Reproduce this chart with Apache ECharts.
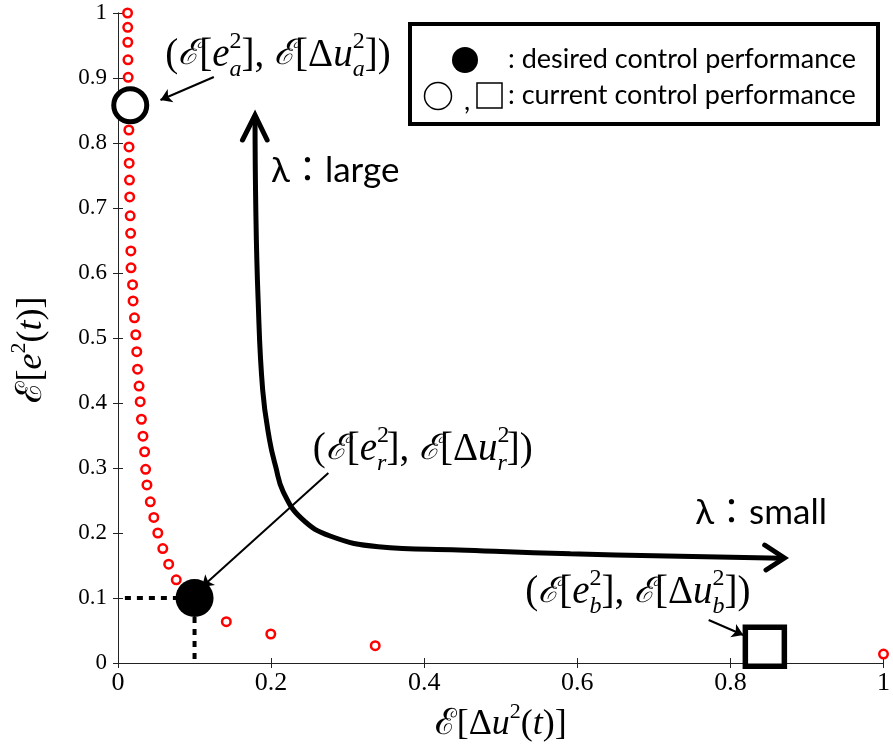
<!DOCTYPE html>
<html><head><meta charset="utf-8">
<script src="https://cdn.jsdelivr.net/npm/echarts@6/dist/echarts.min.js"></script>
<style>html,body{margin:0;padding:0;background:#fff}#c{width:893px;height:751px}</style>
</head><body><div id="c"></div>
<script>
// ---- data ----
const xTickValues = [0, 0.2, 0.4, 0.6, 0.8, 1];
const yTickValues = [0, 0.1, 0.2, 0.3, 0.4, 0.5, 0.6, 0.7, 0.8, 0.9, 1];
const tradeoffX = [0.0125, 0.0127, 0.0128, 0.0130, 0.0133, 0.0136, 0.0140, 0.0142, 0.0144, 0.0146, 0.0150, 0.0153,
  0.0159, 0.0165, 0.0168, 0.0170, 0.0190, 0.0197, 0.0215, 0.0232, 0.0245, 0.0255, 0.0275, 0.0290, 0.0306, 0.0326,
  0.0348, 0.0361, 0.0378, 0.0422, 0.0468, 0.0520, 0.0585, 0.0662, 0.0761, 0.1415, 0.1996, 0.3360, 1.0];
const tradeoffY = [1.000, 0.978, 0.955, 0.928, 0.901, 0.874, 0.848, 0.820, 0.794, 0.769, 0.743, 0.717,
  0.688, 0.661, 0.634, 0.608, 0.582, 0.557, 0.531, 0.505, 0.479, 0.452, 0.426, 0.402, 0.375, 0.349,
  0.325, 0.298, 0.274, 0.248, 0.224, 0.200, 0.176, 0.152, 0.128, 0.0635, 0.0446, 0.0266, 0.0138];
const currentA = [0.016, 0.858];
const desiredR = [0.1, 0.1];
const currentB = [0.845, 0.025];
// thick lambda arrow path
const lambdaPathX = [0.179, 0.180, 0.183, 0.189, 0.198, 0.206, 0.216, 0.240, 0.278, 0.340, 0.445, 0.591, 0.868];
const lambdaPathY = [0.843, 0.700, 0.560, 0.420, 0.343, 0.302, 0.263, 0.222, 0.195, 0.179, 0.174, 0.168, 0.161];
const headTopX = [0.1626, 0.179, 0.1948];
const headTopY = [0.8046, 0.843, 0.8046];
const headRightX = [0.8448, 0.8706, 0.8465];
const headRightY = [0.1815, 0.1615, 0.1431];
// thin pointer arrows [fromX, fromY, toX, toY]
const pointerA = [0.1252, 0.9015, 0.0555, 0.8662];
const pointerR = [0.2748, 0.2923, 0.1097, 0.1169];
const pointerB = [0.7716, 0.0662, 0.8168, 0.0431];
// label anchors (left, middle)
const labelAPos = [0.0618, 0.935];
const labelRPos = [0.2545, 0.3277];
const labelBPos = [0.532, 0.1077];
const lambdaLargePos = [0.200, 0.758];
const lambdaSmallPos = [0.754, 0.2308];
const lambdaLargeText = 'λ：large';
const lambdaSmallText = 'λ：small';
const legendText1 = ': desired control performance';
const legendText2 = ': current control performance';

const MATH = "'Liberation Serif',serif";
const SANS = "Lato,'Noto Sans CJK KR',sans-serif";

const mathRich = (fs) => {
  const L = Math.round(fs * 1.33);
  const ss = Math.round(fs * 0.62);
  const up = Math.round(fs * 0.28), dn = Math.round(fs * 0.23);
  return {
    m: {fontFamily: MATH, fontSize: fs, lineHeight: L, color: '#000'},
    c: {fontFamily: "'DejaVu Serif',serif", fontStyle: 'italic', fontSize: Math.round(fs * 0.9), lineHeight: L, color: '#000'},
    i: {fontFamily: MATH, fontStyle: 'italic', fontSize: fs, lineHeight: L, color: '#000'},
    sp: {fontFamily: MATH, fontSize: ss, lineHeight: L - 2 * up, width: 0, verticalAlign: 'top', color: '#000'},
    sb: {fontFamily: MATH, fontStyle: 'italic', fontSize: ss, lineHeight: L - 2 * dn, verticalAlign: 'bottom', color: '#000'},
    su: {fontFamily: MATH, fontSize: ss, lineHeight: L - 2 * up, verticalAlign: 'top', color: '#000'}
  };
};
const mathLabel = (s) => '{m|(}{c|ℰ}{m|[}{i|e}{sp|2}{sb|' + s + '}{m|], }{c|ℰ}{m|[Δ}{i|u}{sp|2}{sb|' + s + '}{m|])}';

const chart = echarts.init(document.getElementById('c'), null, {renderer: 'canvas'});
const pts = tradeoffX.map((x, i) => [x, tradeoffY[i]]);
const zip = (a, b) => a.map((v, i) => [v, b[i]]);

const baseAxis = {
  min: 0, max: 1,
  axisLine: {show: true, lineStyle: {color: '#222', width: 1}},
  axisTick: {show: true, inside: true, length: 5, lineStyle: {color: '#222'}},
  splitLine: {show: false},
  axisLabel: {show: false}
};

chart.setOption({
  animation: false,
  backgroundColor: '#fff',
  grid: {left: 112, right: 6, top: 13, bottom: 88},
  xAxis: [
    Object.assign({}, baseAxis, {type: 'value', position: 'bottom', interval: 0.2,
      axisLabel: {show: true, fontFamily: MATH, fontSize: 26, color: '#000', margin: 7,
        formatter: v => xTickValues.includes(+v.toFixed(1)) ? String(+v.toFixed(1)) : ''},
      name: '{m|ℰ[Δ}{i|u}{su|2}{m|(}{i|t}{m|)]}', nameLocation: 'middle', nameGap: 31,
      nameTextStyle: {rich: mathRich(36)}}),
    Object.assign({}, baseAxis, {type: 'value', position: 'top', interval: 0.2})
  ],
  yAxis: [
    Object.assign({}, baseAxis, {type: 'value', position: 'left', interval: 0.1,
      axisLabel: {show: true, fontFamily: MATH, fontSize: 23, color: '#000', margin: 11,
        formatter: v => yTickValues.includes(+v.toFixed(1)) ? String(+v.toFixed(1)) : ''},
      name: '{m|ℰ[}{i|e}{su|2}{m|(}{i|t}{m|)]}', nameLocation: 'middle', nameGap: 62,
      nameTextStyle: {rich: mathRich(36), padding: [0, 24, 0, 0]}}),
    Object.assign({}, baseAxis, {type: 'value', position: 'right', interval: 0.1})
  ],
  series: [
    {type: 'scatter', name: 'tradeoff', data: pts, symbol: 'circle', symbolSize: 8.5, z: 3,
      itemStyle: {color: 'rgba(255,255,255,0)', borderColor: '#ff0000', borderWidth: 2.5, opacity: 1}},
    {type: 'line', name: 'dashH', data: [[0.009, desiredR[1]], [desiredR[0], desiredR[1]]], symbol: 'none', z: 4,
      lineStyle: {color: '#000', width: 4, type: [6, 6]}},
    {type: 'line', name: 'dashV', data: [[desiredR[0], 0.006], [desiredR[0], desiredR[1]]], symbol: 'none', z: 4,
      lineStyle: {color: '#000', width: 4, type: [6, 6]}},
    {type: 'scatter', name: 'desired', data: [desiredR], symbol: 'circle', symbolSize: 38, z: 6,
      itemStyle: {color: '#000', opacity: 1}},
    {type: 'scatter', name: 'currentA', data: [currentA], symbol: 'circle', symbolSize: 33, z: 6,
      itemStyle: {color: '#fff', borderColor: '#000', borderWidth: 5, opacity: 1}},
    {type: 'scatter', name: 'currentB', data: [currentB], symbol: 'rect', symbolSize: 39, z: 6,
      itemStyle: {color: '#fff', borderColor: '#000', borderWidth: 5.5, opacity: 1}},
    {type: 'line', name: 'lambdaPath', data: zip(lambdaPathX, lambdaPathY), symbol: 'none', smooth: 0.45, z: 5,
      lineStyle: {color: '#000', width: 5}},
    {type: 'line', name: 'headTop', data: zip(headTopX, headTopY), symbol: 'none', z: 5,
      lineStyle: {color: '#000', width: 5, join: 'miter', cap: 'round'}},
    {type: 'line', name: 'headRight', data: zip(headRightX, headRightY), symbol: 'none', z: 5,
      lineStyle: {color: '#000', width: 5, join: 'miter', cap: 'round'}},
    {type: 'lines', name: 'pointers', coordinateSystem: 'cartesian2d', z: 7,
      symbol: ['none', 'arrow'], symbolSize: 11,
      lineStyle: {color: '#000', width: 2, opacity: 1},
      data: [pointerA, pointerR, pointerB].map(p => ({coords: [[p[0], p[1]], [p[2], p[3]]]}))}
  ]
});

const px = (p) => chart.convertToPixel({xAxisIndex: 0, yAxisIndex: 0}, p);
const mlab = (pos, s) => {
  const q = px(pos);
  return {type: 'text', x: q[0], y: q[1], z: 100,
    style: {text: mathLabel(s), rich: mathRich(39), align: 'left', verticalAlign: 'middle'}};
};
const lam = (pos, t) => {
  const q = px(pos);
  return {type: 'text', x: q[0], y: q[1], z: 100,
    style: {text: t, fontFamily: SANS, fontSize: 35, fill: '#000', align: 'left', verticalAlign: 'middle'}};
};

chart.setOption({
  graphic: [
    mlab(labelAPos, 'a'), mlab(labelRPos, 'r'), mlab(labelBPos, 'b'),
    lam(lambdaLargePos, lambdaLargeText), lam(lambdaSmallPos, lambdaSmallText),
    {type: 'rect', z: 100, shape: {x: 410, y: 24, width: 468, height: 100},
      style: {fill: '#fff', stroke: '#000', lineWidth: 4}},
    {type: 'circle', z: 101, shape: {cx: 465, cy: 60, r: 13}, style: {fill: '#000'}},
    {type: 'circle', z: 101, shape: {cx: 438, cy: 96, r: 13.5}, style: {fill: '#fff', stroke: '#000', lineWidth: 1.5}},
    {type: 'text', z: 101, x: 464, y: 101, style: {text: ',', fontFamily: SANS, fontSize: 27, fill: '#000', align: 'left', verticalAlign: 'middle'}},
    {type: 'rect', z: 101, shape: {x: 477, y: 83, width: 25, height: 25}, style: {fill: '#fff', stroke: '#000', lineWidth: 1.5}},
    {type: 'text', z: 101, x: 508, y: 59, style: {text: legendText1, fontFamily: SANS, fontSize: 27, fill: '#000', align: 'left', verticalAlign: 'middle'}},
    {type: 'text', z: 101, x: 508, y: 95, style: {text: legendText2, fontFamily: SANS, fontSize: 27, fill: '#000', align: 'left', verticalAlign: 'middle'}}
  ]
});
</script></body></html>
